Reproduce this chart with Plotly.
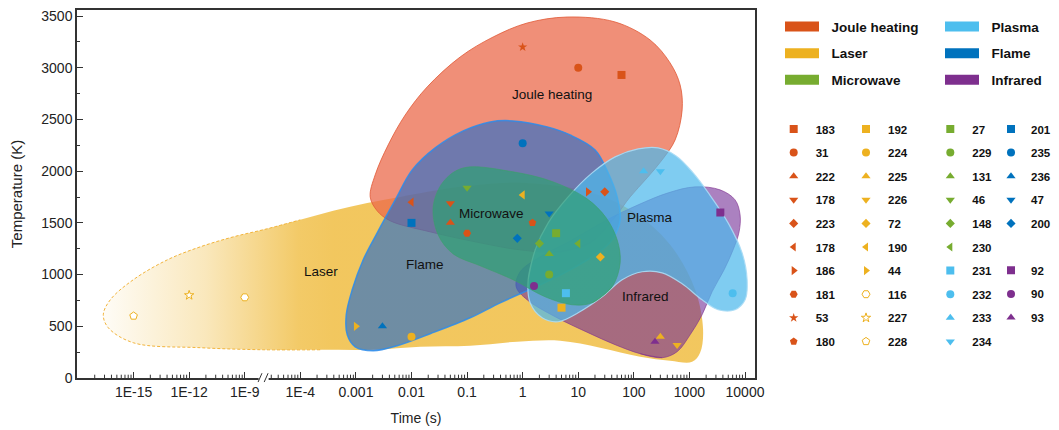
import math
import plotly.graph_objects as go

# ---------------- data ----------------
categories = ["Joule heating", "Laser", "Microwave", "Plasma", "Flame", "Infrared"]
category_colors = ["#D95319", "#EDB120", "#77AC30", "#4DBEEE", "#0072BD", "#7E2F8E"]

tick_times = [1e-15, 1e-12, 1e-9, 1e-4, 1e-3, 1e-2, 1e-1, 1, 10, 100, 1000, 10000]
tick_labels = ["1E-15", "1E-12", "1E-9", "1E-4", "0.001", "0.01", "0.1", "1", "10", "100", "1000", "10000"]
y_ticks = [0, 500, 1000, 1500, 2000, 2500, 3000, 3500]

joule_refs = ["183", "31", "222", "178", "223", "178", "186", "181", "53", "180"]
joule_symbols = ["square", "circle", "triangle-up", "triangle-down", "diamond", "triangle-left",
                 "triangle-right", "hexagon2", "star", "pentagon"]
joule_time = [60, 10, 0.05, 0.05, 30, 0.01, 15, 0.1, 1, 1.5]
joule_temp = [2930, 3000, 1500, 1690, 1800, 1700, 1800, 1400, 3200, 1500]

laser_refs = ["192", "224", "225", "226", "72", "190", "44", "116", "227", "228"]
laser_symbols = ["square", "circle", "triangle-up", "triangle-down", "diamond", "triangle-left",
                 "triangle-right", "hexagon2", "star", "pentagon"]
laser_open = [False, False, False, False, False, False, False, True, True, True]
laser_time = [5, 0.01, 300, 600, 25, 1, 0.001, 1e-9, 1e-12, 1e-15]
laser_temp = [680, 400, 400, 320, 1170, 1770, 500, 780, 800, 600]

microwave_refs = ["27", "229", "131", "46", "148", "230"]
microwave_symbols = ["square", "circle", "triangle-up", "triangle-down", "diamond", "triangle-left"]
microwave_time = [4, 3, 3, 0.1, 2, 10]
microwave_temp = [1400, 1000, 1200, 1840, 1300, 1300]

plasma_refs = ["231", "232", "233", "234"]
plasma_symbols = ["square", "circle", "triangle-up", "triangle-down"]
plasma_time = [6, 6000, 150, 300]
plasma_temp = [820, 820, 2000, 2000]

flame_refs = ["201", "235", "236", "47", "200"]
flame_symbols = ["square", "circle", "triangle-up", "triangle-down", "diamond"]
flame_time = [0.01, 1, 0.003, 3, 0.8]
flame_temp = [1500, 2270, 500, 1590, 1350]

infrared_refs = ["92", "90", "93"]
infrared_symbols = ["square", "circle", "triangle-up"]
infrared_time = [3600, 1.6, 240]
infrared_temp = [1600, 890, 350]

# region outlines: log10(time / s) and temperature (K)
joule_region_logt = [0.674, 1.214, 1.664, 1.933, 2.239, 2.509, 2.743, 2.869, 2.833, 2.653, 2.293, 1.664,
                     0.800, 0.081, -0.531, -1.124, -1.718, -2.113, -2.419, -2.653, -2.743, -2.617,
                     -2.383, -1.664, -0.764, -0.045]
joule_region_temp = [1220, 1307, 1558, 1751, 1935, 2109, 2302, 2592, 2833, 3046, 3268, 3442,
                     3490, 3432, 3297, 3104, 2814, 2543, 2254, 1964, 1751, 1616,
                     1520, 1413, 1307, 1239]

flame_region_logt = [1.304, 0.854, 0.315, -0.405, -0.944, -1.664, -2.257, -2.689, -3.013, -3.156,
                     -3.174, -3.067, -2.869, -2.617, -2.293, -1.987, -1.574, -1.070, -0.585, -0.171,
                     0.441, 0.854, 1.304, 1.538, 1.700, 1.754, 1.610]
flame_region_temp = [1191, 1046, 901, 727, 582, 428, 312, 264, 302, 418,
                     611, 853, 1143, 1404, 1722, 2012, 2225, 2389, 2476, 2486,
                     2428, 2350, 2205, 1983, 1751, 1529, 1336]

microwave_region_logt = [1.610, 1.250, 0.890, 0.405, -0.171, -0.764, -1.250, -1.520, -1.610, -1.430,
                         -1.070, -0.171, 0.549, 1.160, 1.502, 1.700, 1.754]
microwave_region_temp = [882, 727, 708, 785, 950, 1085, 1200, 1384, 1655, 1896,
                         2031, 1993, 1896, 1732, 1549, 1336, 1114]

plasma_region_logt = [0.099, 0.225, 0.459, 0.818, 1.250, 1.664, 2.077, 2.437, 2.761, 3.067,
                      3.354, 3.696, 3.948, 4.038, 4.002, 3.822, 3.516, 3.228, 2.869, 2.509,
                      2.149, 1.790, 1.430, 0.998, 0.638, 0.351, 0.135]
plasma_region_temp = [950, 1239, 1500, 1751, 1983, 2138, 2215, 2225, 2147, 1983,
                      1780, 1500, 1210, 950, 756, 660, 660, 756, 911, 1017,
                      1027, 950, 785, 631, 544, 582, 727]

infrared_region_logt = [2.509, 2.113, 1.664, 1.178, 0.585, 0.081, -0.117, -0.045, 0.315, 0.890,
                        1.484, 2.077, 2.617, 3.103, 3.552, 3.822, 3.912, 3.894, 3.786, 3.624,
                        3.408, 3.228, 3.013, 2.779]
infrared_region_temp = [196, 235, 322, 438, 592, 756, 882, 1027, 1172, 1336,
                        1520, 1674, 1790, 1848, 1819, 1722, 1577, 1413, 1239, 1046,
                        834, 611, 418, 254]

laser_region_logt = [-0.045, 1.034, 1.933, 2.653, 3.103, 3.246, 3.192, 3.049, 2.653, 2.113,
                     1.394, 0.674, -0.099, -0.944, -1.844, -2.689, -3.642, -7.335, -11.403, -15.016,
                     -16.365, -16.635, -16.257, -15.016, -13.171, -11.403, -9.609, -7.010, -4.010, -3.408,
                     -2.797, -2.203, -1.124]
laser_region_temp = [1887, 1819, 1626, 1288, 853, 467, 244, 157, 167, 206,
                     293, 360, 351, 312, 302, 273, 273, 273, 293, 341,
                     486, 611, 756, 950, 1143, 1268, 1365, 1442, 1529, 1616,
                     1693, 1751, 1848]
laser_dashed_range = (17, 28)  # indices of the dashed (faded) part of the laser outline

region_labels = ["Joule heating", "Microwave", "Plasma", "Flame", "Laser", "Infrared"]
region_label_logt = [0.525, -0.554, 2.293, -1.766, -3.629, 2.216]
region_label_temp = [2737, 1594, 1551, 1094, 1030, 788]


# ---------------- broken log time axis ----------------
def to_axis(logt):
    if logt <= -9:
        return (logt + 15) / 3.0
    if logt < -4:
        return 2 + (logt + 9) / 5.0
    return logt + 7


def tx(t):
    return to_axis(math.log10(t))


X_RANGE = [-1.018, 11.18]
Y_RANGE = [0, 3558]
FONT = "Arial, 'Liberation Sans', sans-serif"

fig = go.Figure()


def add_region(logt, temp, fill, line_color, line_width=1.0, gradient=None):
    xs = [to_axis(v) for v in logt]
    ys = list(temp)
    xs = xs + xs[:2]
    ys = ys + ys[:2]
    kw = dict(fillcolor=fill)
    if gradient is not None:
        kw = dict(fillgradient=gradient)
    fig.add_trace(go.Scatter(
        x=xs, y=ys, mode="lines", fill="toself",
        line=dict(shape="spline", smoothing=1, color=line_color, width=line_width),
        hoverinfo="skip", showlegend=False, **kw))


# Laser (gradient)
add_region(laser_region_logt, laser_region_temp, None, "rgba(0,0,0,0)", 0,
           gradient=dict(type="horizontal", start=-0.6, stop=3.6,
                         colorscale=[[0, "rgba(237,177,32,0.03)"], [0.45, "rgba(237,177,32,0.3)"],
                                     [0.85, "rgba(237,177,32,0.68)"], [1, "rgba(237,177,32,0.72)"]]))
a, b = laser_dashed_range
fig.add_trace(go.Scatter(
    x=[to_axis(v) for v in laser_region_logt[a - 1:b + 1]],
    y=laser_region_temp[a - 1:b + 1], mode="lines",
    line=dict(shape="spline", smoothing=1, color="#F2B43C", width=1, dash="3px,2px"),
    hoverinfo="skip", showlegend=False))

add_region(joule_region_logt, joule_region_temp, "rgba(235,105,75,0.75)", "rgba(225,90,55,0.8)", 1)
add_region(infrared_region_logt, infrared_region_temp, "rgba(115,45,150,0.6)", "rgba(126,47,142,0.6)", 1)
add_region(flame_region_logt, flame_region_temp, "rgba(35,108,205,0.63)", "rgba(45,140,235,0.85)", 1.5)
add_region(plasma_region_logt, plasma_region_temp, "rgba(77,185,235,0.72)", "rgba(170,220,245,0.9)", 1.2)
add_region(microwave_region_logt, microwave_region_temp, "rgba(47,160,115,0.7)", "rgba(60,160,105,0.6)", 1)

# region legend entries
NB = "\u00a0\u00a0"
region_legend = ["legend", "legend", "legend", "legend2", "legend2", "legend2"]
for cat, col, lg in zip(categories, category_colors, region_legend):
    fig.add_trace(go.Scatter(x=[None], y=[None], mode="lines", name=NB + cat,
                             line=dict(color=col, width=10), legend=lg, legendgroup="r" + cat))

# markers
groups = [
    (joule_refs, joule_symbols, joule_time, joule_temp, "#D95319", "legend3", None),
    (laser_refs, laser_symbols, laser_time, laser_temp, "#EDB120", "legend4", laser_open),
    (microwave_refs, microwave_symbols, microwave_time, microwave_temp, "#77AC30", "legend5", None),
    (plasma_refs, plasma_symbols, plasma_time, plasma_temp, "#4DBEEE", "legend5", None),
    (flame_refs, flame_symbols, flame_time, flame_temp, "#0072BD", "legend6", None),
    (infrared_refs, infrared_symbols, infrared_time, infrared_temp, "#7E2F8E", "legend7", None),
]
k = 0
for refs, syms, times, temps, col, lg, opens in groups:
    for i, (r, s, t, T) in enumerate(zip(refs, syms, times, temps)):
        is_open = bool(opens[i]) if opens else False
        size = 7 if s == "star" else 8
        if s.startswith("diamond"):
            size = 7
        marker = dict(symbol=s, size=size, color="white" if is_open else col,
                      line=dict(color=col, width=1 if is_open else 0))
        fig.add_trace(go.Scatter(x=[tx(t)], y=[T], mode="markers", name=r, marker=marker,
                                 legend=lg, legendgroup="m%d" % k, hoverinfo="skip"))
        k += 1

# region labels
for txt, lt, T in zip(region_labels, region_label_logt, region_label_temp):
    fig.add_annotation(x=to_axis(lt), y=T, text=txt, showarrow=False,
                       font=dict(family=FONT, size=13.5, color="#111"))

# minor x ticks (log pattern per axis unit)
shapes = []
for kk in range(-2, 13):
    for m in range(2, 10):
        u = kk + math.log10(m)
        if X_RANGE[0] < u < X_RANGE[1]:
            shapes.append(dict(type="line", xref="x", yref="paper", x0=u, x1=u, y0=0, y1=0.009,
                               line=dict(color="#333", width=1)))
# axis break marks
shapes.append(dict(type="rect", xref="x", yref="paper", x0=2.25, x1=2.43, y0=-0.012, y1=0.012,
                   fillcolor="white", line=dict(width=0), layer="above"))
shapes.append(dict(type="line", xref="x", yref="paper", x0=2.24, x1=2.31, y0=-0.011, y1=0.013,
                   line=dict(color="#333", width=1), layer="above"))
shapes.append(dict(type="line", xref="x", yref="paper", x0=2.35, x1=2.42, y0=-0.011, y1=0.013,
                   line=dict(color="#333", width=1), layer="above"))

# the page body adds an 8px offset; margins are chosen so the screenshot aligns
W, H = 1059, 430
ml, mr, mt, mb = 69, 312, 2, 60
pw, ph = W - ml - mr, H - mt - mb


def px_x(p):
    return (p - ml) / pw


def px_y(p):
    return (H - mb - p) / ph


leg_common = dict(bgcolor="rgba(0,0,0,0)", borderwidth=0, xanchor="left", yanchor="top",
                  traceorder="grouped")
region_font = dict(family=FONT, size=13.5, color="#111", weight="bold")
marker_font = dict(family=FONT, size=11.5, color="#111", weight="bold")
ROW = 23.56

fig.update_layout(
    width=W, height=H,
    margin=dict(l=ml, r=mr, t=mt, b=mb, autoexpand=False),
    paper_bgcolor="white", plot_bgcolor="white",
    font=dict(family=FONT, color="#222"),
    shapes=shapes,
    legend=dict(x=px_x(772), y=px_y(3.3), font=region_font, tracegroupgap=6, itemwidth=34, **leg_common),
    legend2=dict(x=px_x(932), y=px_y(3.3), font=region_font, tracegroupgap=6, itemwidth=34, **leg_common),
    legend3=dict(x=px_x(763.7), y=px_y(106.5), font=marker_font, tracegroupgap=4.6, itemwidth=34, **leg_common),
    legend4=dict(x=px_x(836), y=px_y(106.5), font=marker_font, tracegroupgap=4.6, itemwidth=34, **leg_common),
    legend5=dict(x=px_x(920.3), y=px_y(106.5), font=marker_font, tracegroupgap=4.6, itemwidth=34, **leg_common),
    legend6=dict(x=px_x(983), y=px_y(106.5), font=marker_font, tracegroupgap=4.6, itemwidth=30, **leg_common),
    legend7=dict(x=px_x(983), y=px_y(106.5 + 6 * ROW), font=marker_font, tracegroupgap=4.6, itemwidth=30, **leg_common),
    xaxis=dict(range=X_RANGE, tickvals=[tx(t) for t in tick_times], ticktext=tick_labels,
               ticks="inside", ticklen=6, tickwidth=1, tickcolor="#333", automargin=False,
               showline=True, linecolor="#333", linewidth=1.5, mirror=True,
               showgrid=False, zeroline=False, ticklabeloverflow="allow",
               tickfont=dict(family=FONT, size=14, color="#222"),
               title=dict(text="Time (s)", font=dict(family=FONT, size=14, color="#222"), standoff=15)),
    yaxis=dict(range=Y_RANGE, tickvals=y_ticks, ticks="inside", ticklen=6, tickwidth=1, tickcolor="#333",
               minor=dict(ticks="inside", ticklen=3, dtick=250, tickcolor="#333"), automargin=False,
               showline=True, linecolor="#333", linewidth=1.5, mirror=True,
               showgrid=False, zeroline=False, ticklabeloverflow="allow",
               tickfont=dict(family=FONT, size=14, color="#222"),
               title=dict(text="Temperature (K)", font=dict(family=FONT, size=15, color="#222"), standoff=15)),
)

fig.write_html("out.html")
